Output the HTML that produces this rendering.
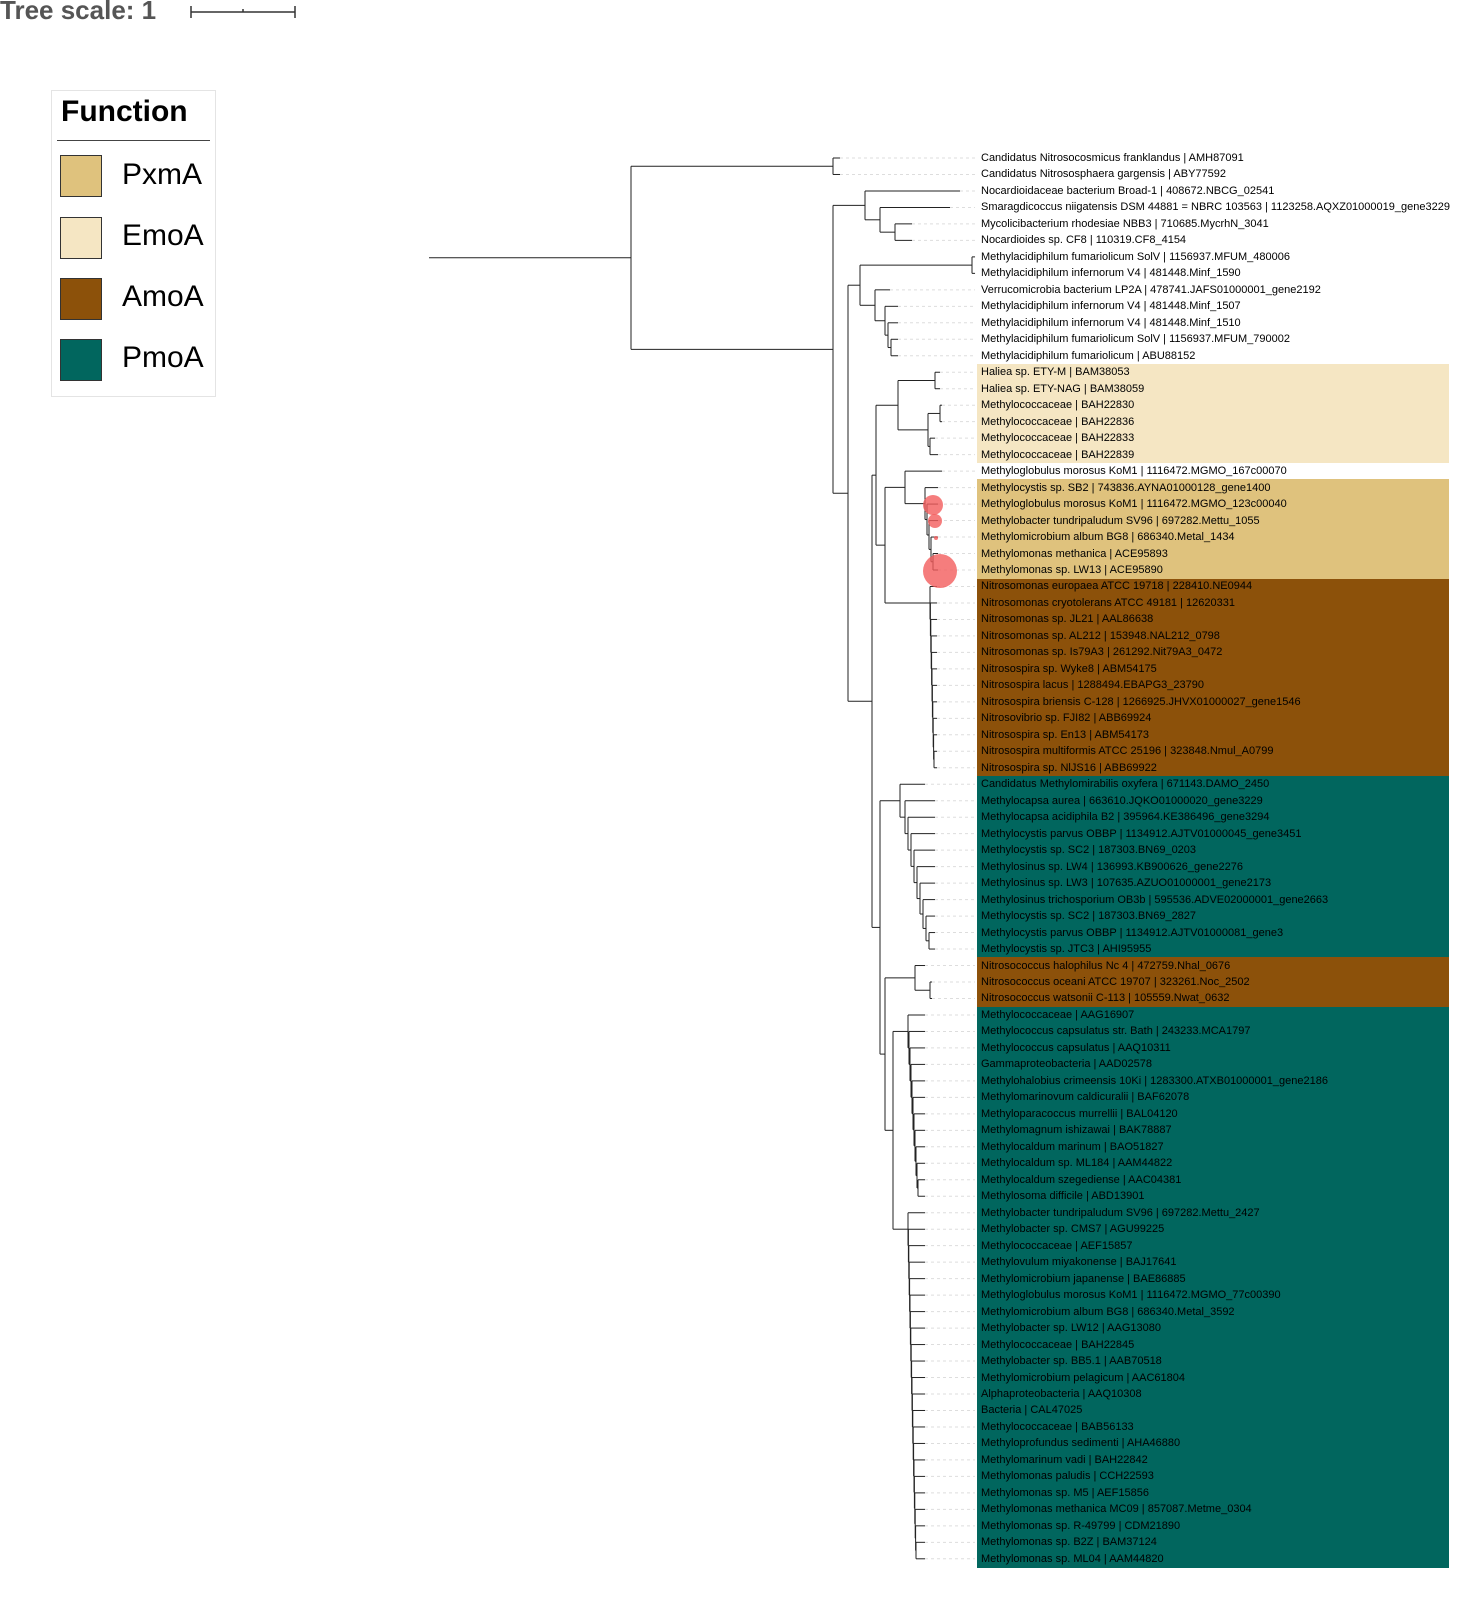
<!DOCTYPE html>
<html><head><meta charset="utf-8"><style>
body{margin:0;width:1479px;height:1600px;background:#fff;position:relative;overflow:hidden;font-family:"Liberation Sans",sans-serif}
.band{position:absolute;left:977px;width:472px}
.lab{position:absolute;left:981px;font-size:11px;line-height:12px;white-space:nowrap;color:#000}
.sw{position:absolute;left:60px;width:40px;height:40px;border:1px solid #333}
.lt{position:absolute;left:122px;font-size:30px;line-height:34px;color:#000}
</style></head><body>
<div style="position:absolute;left:0;top:-5px;font-size:26px;font-weight:bold;color:#555">Tree scale: 1</div>
<svg style="position:absolute;left:0;top:0" width="320" height="30"><path d="M191 12H295M191 6V18M295 6V18M243 9V12" stroke="#333" stroke-width="1.5" fill="none"/></svg>
<div style="position:absolute;left:51px;top:90px;width:163px;height:305px;border:1px solid #e4e4e4"></div>
<div style="position:absolute;left:61px;top:95px;font-size:30px;font-weight:bold">Function</div>
<div style="position:absolute;left:57px;top:140px;width:153px;height:1px;background:#444"></div>
<div class="sw" style="top:155px;background:#dfc27d"></div><div class="lt" style="top:158px">PxmA</div>
<div class="sw" style="top:217px;background:#f5e6c3"></div><div class="lt" style="top:219px">EmoA</div>
<div class="sw" style="top:278px;background:#8c510a"></div><div class="lt" style="top:280px">AmoA</div>
<div class="sw" style="top:339px;background:#01665e"></div><div class="lt" style="top:341px">PmoA</div>
<div class="band" style="top:364px;height:99px;background:#f5e6c3"></div>
<div class="band" style="top:479px;height:100px;background:#dfc27d"></div>
<div class="band" style="top:579px;height:197px;background:#8c510a"></div>
<div class="band" style="top:776px;height:181px;background:#01665e"></div>
<div class="band" style="top:957px;height:50px;background:#8c510a"></div>
<div class="band" style="top:1007px;height:561px;background:#01665e"></div>
<div id="labs"></div>
<svg id="tree" style="position:absolute;left:0;top:0" width="1479" height="1600"></svg>
<script>
var L=["Candidatus Nitrosocosmicus franklandus | AMH87091","Candidatus Nitrososphaera gargensis | ABY77592","Nocardioidaceae bacterium Broad-1 | 408672.NBCG_02541","Smaragdicoccus niigatensis DSM 44881 = NBRC 103563 | 1123258.AQXZ01000019_gene3229","Mycolicibacterium rhodesiae NBB3 | 710685.MycrhN_3041","Nocardioides sp. CF8 | 110319.CF8_4154","Methylacidiphilum fumariolicum SolV | 1156937.MFUM_480006","Methylacidiphilum infernorum V4 | 481448.Minf_1590","Verrucomicrobia bacterium LP2A | 478741.JAFS01000001_gene2192","Methylacidiphilum infernorum V4 | 481448.Minf_1507","Methylacidiphilum infernorum V4 | 481448.Minf_1510","Methylacidiphilum fumariolicum SolV | 1156937.MFUM_790002","Methylacidiphilum fumariolicum | ABU88152","Haliea sp. ETY-M | BAM38053","Haliea sp. ETY-NAG | BAM38059","Methylococcaceae | BAH22830","Methylococcaceae | BAH22836","Methylococcaceae | BAH22833","Methylococcaceae | BAH22839","Methyloglobulus morosus KoM1 | 1116472.MGMO_167c00070","Methylocystis sp. SB2 | 743836.AYNA01000128_gene1400","Methyloglobulus morosus KoM1 | 1116472.MGMO_123c00040","Methylobacter tundripaludum SV96 | 697282.Mettu_1055","Methylomicrobium album BG8 | 686340.Metal_1434","Methylomonas methanica | ACE95893","Methylomonas sp. LW13 | ACE95890","Nitrosomonas europaea ATCC 19718 | 228410.NE0944","Nitrosomonas cryotolerans ATCC 49181 | 12620331","Nitrosomonas sp. JL21 | AAL86638","Nitrosomonas sp. AL212 | 153948.NAL212_0798","Nitrosomonas sp. Is79A3 | 261292.Nit79A3_0472","Nitrosospira sp. Wyke8 | ABM54175","Nitrosospira lacus | 1288494.EBAPG3_23790","Nitrosospira briensis C-128 | 1266925.JHVX01000027_gene1546","Nitrosovibrio sp. FJI82 | ABB69924","Nitrosospira sp. En13 | ABM54173","Nitrosospira multiformis ATCC 25196 | 323848.Nmul_A0799","Nitrosospira sp. NlJS16 | ABB69922","Candidatus Methylomirabilis oxyfera | 671143.DAMO_2450","Methylocapsa aurea | 663610.JQKO01000020_gene3229","Methylocapsa acidiphila B2 | 395964.KE386496_gene3294","Methylocystis parvus OBBP | 1134912.AJTV01000045_gene3451","Methylocystis sp. SC2 | 187303.BN69_0203","Methylosinus sp. LW4 | 136993.KB900626_gene2276","Methylosinus sp. LW3 | 107635.AZUO01000001_gene2173","Methylosinus trichosporium OB3b | 595536.ADVE02000001_gene2663","Methylocystis sp. SC2 | 187303.BN69_2827","Methylocystis parvus OBBP | 1134912.AJTV01000081_gene3","Methylocystis sp. JTC3 | AHI95955","Nitrosococcus halophilus Nc 4 | 472759.Nhal_0676","Nitrosococcus oceani ATCC 19707 | 323261.Noc_2502","Nitrosococcus watsonii C-113 | 105559.Nwat_0632","Methylococcaceae | AAG16907","Methylococcus capsulatus str. Bath | 243233.MCA1797","Methylococcus capsulatus | AAQ10311","Gammaproteobacteria | AAD02578","Methylohalobius crimeensis 10Ki | 1283300.ATXB01000001_gene2186","Methylomarinovum caldicuralii | BAF62078","Methyloparacoccus murrellii | BAL04120","Methylomagnum ishizawai | BAK78887","Methylocaldum marinum | BAO51827","Methylocaldum sp. ML184 | AAM44822","Methylocaldum szegediense | AAC04381","Methylosoma difficile | ABD13901","Methylobacter tundripaludum SV96 | 697282.Mettu_2427","Methylobacter sp. CMS7 | AGU99225","Methylococcaceae | AEF15857","Methylovulum miyakonense | BAJ17641","Methylomicrobium japanense | BAE86885","Methyloglobulus morosus KoM1 | 1116472.MGMO_77c00390","Methylomicrobium album BG8 | 686340.Metal_3592","Methylobacter sp. LW12 | AAG13080","Methylococcaceae | BAH22845","Methylobacter sp. BB5.1 | AAB70518","Methylomicrobium pelagicum | AAC61804","Alphaproteobacteria | AAQ10308","Bacteria | CAL47025","Methylococcaceae | BAB56133","Methyloprofundus sedimenti | AHA46880","Methylomarinum vadi | BAH22842","Methylomonas paludis | CCH22593","Methylomonas sp. M5 | AEF15856","Methylomonas methanica MC09 | 857087.Metme_0304","Methylomonas sp. R-49799 | CDM21890","Methylomonas sp. B2Z | BAM37124","Methylomonas sp. ML04 | AAM44820"];
function Y(i){return 158+(i-1)*16.48;}
try{
var h="";L.forEach(function(t,k){h+='<div class="lab" style="top:'+(Y(k+1)-6)+'px">'+t.replace(/&/g,"&amp;")+'</div>';});
document.getElementById("labs").innerHTML=h;
}catch(e){}
try{
function N(x){return [x, Array.prototype.slice.call(arguments,1)];}
function F(x,i){return [x,i];}
function comb(x,dx,a,b,tip){if(a==b)return F(tip,a);return N(x,F(tip,a),comb(x+dx,dx,a+1,b,tip));}
var T=N(631,
 N(833, F(840,1), F(840,2)),
 N(833,
  N(865, F(960,3), N(880, F(950,4), N(895, F(912,5), F(912,6)))),
  N(848,
   N(860, N(972, F(975,7), F(975,8)), N(875, F(890,9), comb(885,3,10,13,898))),
   N(872,
    N(876,
     N(898, N(935, F(940,14), F(940,15)), N(928, N(940, F(942,16), F(942,17)), N(930, F(935,18), F(938,19)))),
     N(885,
      N(905, F(942,20), comb(925,2,21,26,938)),
      comb(930,0.4,27,38,937))),
    N(880,
     N(900, F(925,39), comb(905,3,40,49,935)),
     N(885,
      N(915, F(925,50), N(930, F(932,51), F(932,52))),
      N(893, comb(908,1,53,64,925), comb(908,0.4,65,86,925))
     )
    )
   )
  )
 )
);
var s="";
function ln(x1,y1,x2,y2,c,d){s+='<line x1="'+x1+'" y1="'+y1+'" x2="'+x2+'" y2="'+y2+'" stroke="'+(c||"#222")+'" stroke-width="1"'+(d?' stroke-dasharray="3,3"':'')+'/>';}
function draw(n,px){var x=n[0];if(typeof n[1]=="number"){var y=Y(n[1]);ln(px,y,x,y);ln(x,y,975,y,"#ddd",1);return y;}
var ys=n[1].map(function(c){return draw(c,x);});var y0=Math.min.apply(null,ys),y1=Math.max.apply(null,ys);ln(x,y0,x,y1);var ym=(y0+y1)/2;ln(px,ym,x,ym);return ym;}
draw(T,429);
s+='<g fill="#f25c5c" fill-opacity="0.8"><circle cx="933" cy="505" r="10"/><circle cx="935" cy="521" r="7"/><circle cx="936" cy="538" r="2"/><circle cx="940" cy="571" r="17"/></g>';
document.getElementById("tree").innerHTML=s;
}catch(e){}
</script>
</body></html>
